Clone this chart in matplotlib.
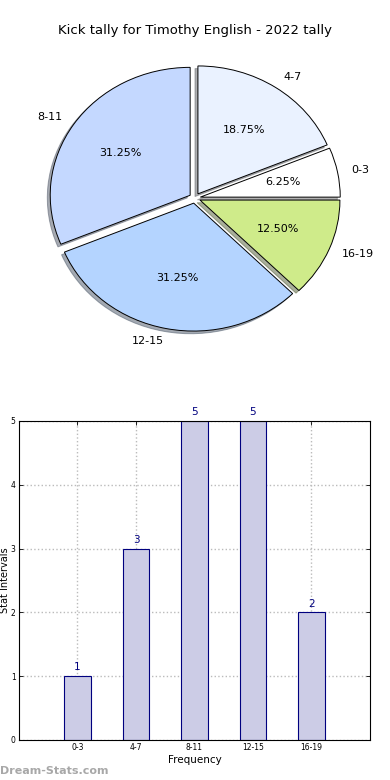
import matplotlib
matplotlib.use("Agg")
import matplotlib.pyplot as plt

categories = ["0-3", "4-7", "8-11", "12-15", "16-19"]
values = [1, 3, 5, 5, 2]
pie_colors = ["#FFFFFF", "#EAF2FF", "#C4D8FF", "#B4D4FF", "#CFEB8A"]
title = "Kick tally for Timothy English - 2022 tally"

fig = plt.figure(figsize=(3.9, 7.8), dpi=100)

# Pie
ax1 = fig.add_axes([0.051, 0.541, 0.897, 0.410])
wedges, texts, autotexts = ax1.pie(
    values, labels=categories, colors=pie_colors, explode=[0.04] * len(values),
    autopct="%.2f%%", startangle=0, shadow=dict(ox=-0.015, oy=-0.015, shade=0.6),
    counterclock=True,
    wedgeprops=dict(edgecolor="black", linewidth=0.7),
    textprops=dict(fontsize=8))
ax1.set_aspect("auto")
ax1.set_xlim(-1.25, 1.25)
ax1.set_ylim(-1.25, 1.25)
fig.text(0.5, 0.961, title, ha="center", va="center", fontsize=9.5)

# Bar chart
ax2 = fig.add_axes([0.0487, 0.0513, 0.9, 0.409])
x = list(range(len(categories)))
ax2.bar(x, values, width=0.45, color="#CCCCE6", edgecolor="#00007F", linewidth=0.8, zorder=2)
for xi, v in zip(x, values):
    ax2.text(xi, v + 0.06, str(v), ha="center", va="bottom", color="#00007F",
             fontsize=7.5, clip_on=False)
ax2.set_xlim(-1, 5)
ax2.set_ylim(0, 5)
ax2.set_xticks(x)
ax2.set_xticklabels(categories)
ax2.set_yticks([0, 1, 2, 3, 4, 5])
ax2.tick_params(axis="both", labelsize=5.5, direction="in", top=True, right=True,
                length=3, width=0.6, pad=2.5)
ax2.grid(True, color="#BBBBBB", linestyle=":", linewidth=1.0, zorder=0)
ax2.set_axisbelow(True)
for s in ax2.spines.values():
    s.set_linewidth(0.8)
ax2.set_xlabel("Frequency", fontsize=7.5, labelpad=2)
ax2.set_ylabel("Stat Intervals", fontsize=7)
ax2.yaxis.set_label_coords(-0.026, 0.5)

fig.text(0.0, 0.012, "Dream-Stats.com", ha="left", va="center", fontsize=8,
         color="#A8A8A8", fontweight="bold")

fig.savefig("out.png", dpi=100)
